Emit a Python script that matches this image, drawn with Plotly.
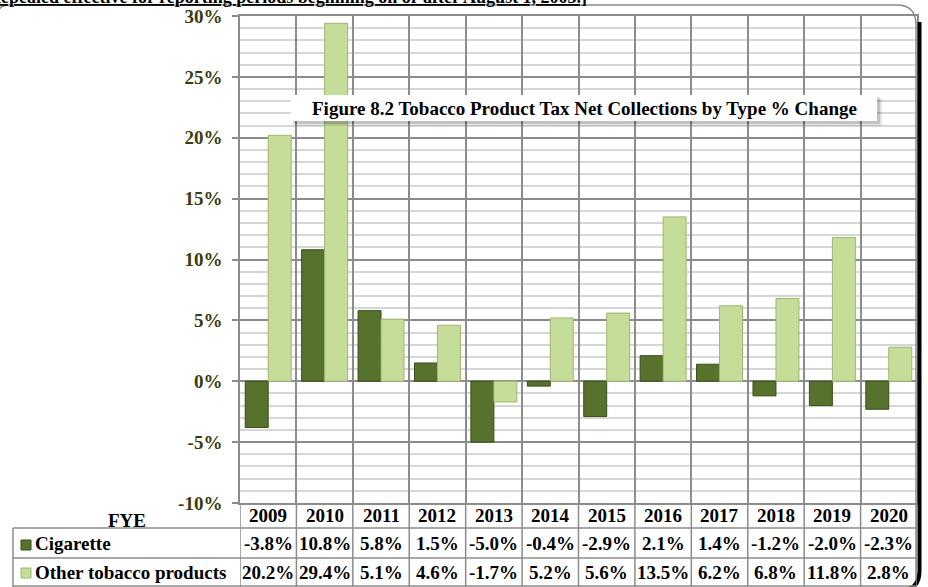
import plotly.graph_objects as go

# ---------------- data ----------------
years = ['2009', '2010', '2011', '2012', '2013', '2014', '2015', '2016', '2017', '2018', '2019', '2020']
cigarette = [-3.8, 10.8, 5.8, 1.5, -5.0, -0.4, -2.9, 2.1, 1.4, -1.2, -2.0, -2.3]
other_tobacco = [20.2, 29.4, 5.1, 4.6, -1.7, 5.2, 5.6, 13.5, 6.2, 6.8, 11.8, 2.8]
y_ticks = [-10, -5, 0, 5, 10, 15, 20, 25, 30]
y_tick_labels = ['-10%', '-5%', '0%', '5%', '10%', '15%', '20%', '25%', '30%']
series_names = ['Cigarette', 'Other tobacco products']
title_text = 'Figure 8.2 Tobacco Product Tax Net Collections by Type % Change'
top_note = '[Repealed effective for reporting periods beginning on or after August 1, 2003.]'

# ---------------- style ----------------
W, H = 928, 587
FONT = 'Liberation Serif, Times New Roman, serif'
CIG_COL, CIG_EDGE = '#56722c', '#3a4f1b'
OTP_COL, OTP_EDGE = '#c6dd9a', '#9db772'
GRID = '#8c8c8c'
MINOR = '#d6d6d6'
OLIVE = '#3b3b0e'


def X(p):
    return p / W


def Y(p):
    return 1 - p / H


fig = go.Figure()
fig.add_bar(x=years, y=cigarette, name=series_names[0],
            marker=dict(color=CIG_COL, line=dict(color=CIG_EDGE, width=1)))
fig.add_bar(x=years, y=other_tobacco, name=series_names[1],
            marker=dict(color=OTP_COL, line=dict(color=OTP_EDGE, width=1)))

shapes = []
annotations = []

# ---- outer chart frame and shadow ----
shapes.append(dict(type='path', xref='paper', yref='paper', layer='above',
                   path=f'M {X(-2)},{Y(14)} Q {X(-2)},{Y(5)} {X(10)},{Y(5)} L {X(897)},{Y(5)} '
                        f'Q {X(916)},{Y(5)} {X(916)},{Y(25)} L {X(916)},{Y(592)}',
                   line=dict(color='#8a8a8a', width=1.5)))
shapes.append(dict(type='path', xref='paper', yref='paper', layer='above',
                   path=f'M {X(919.5)},{Y(22)} L {X(919.5)},{Y(571)} Q {X(919.5)},{Y(589)} {X(903)},{Y(590)}',
                   line=dict(color='#000000', width=4)))

# ---- data table lines ----
for yy in (528, 558, 586):
    shapes.append(dict(type='line', xref='paper', yref='paper', x0=X(13), x1=X(917), y0=Y(yy), y1=Y(yy),
                       line=dict(color=GRID, width=1.5), layer='above'))
shapes.append(dict(type='line', xref='paper', yref='paper', x0=X(13), x1=X(13), y0=Y(528), y1=Y(590),
                   line=dict(color=GRID, width=1.5), layer='above'))
for i in range(len(years) + 1):
    shapes.append(dict(type='line', xref='x', yref='paper', x0=i - 0.5, x1=i - 0.5, y0=Y(503), y1=Y(590),
                       line=dict(color=GRID, width=1.5), layer='above'))

# legend keys in table
for yk, col, edge in ((545, CIG_COL, CIG_EDGE), (573, OTP_COL, OTP_EDGE)):
    shapes.append(dict(type='rect', xref='paper', yref='paper', x0=X(21), x1=X(31), y0=Y(yk - 5), y1=Y(yk + 5),
                       fillcolor=col, line=dict(color=edge, width=1), layer='above'))

tfont = dict(family=FONT, size=19, color='black', weight='bold')


def ann(x, y, text, xref='paper', xanchor='center', yanchor='middle', font=tfont):
    annotations.append(dict(x=x, xref=xref, y=y, yref='paper', text=text, showarrow=False,
                            xanchor=xanchor, yanchor=yanchor, font=font))


for i, yr in enumerate(years):
    ann(i, Y(515), yr, xref='x')
    ann(i, Y(543), f'{cigarette[i]:.1f}%', xref='x')
    ann(i, Y(572), f'{other_tobacco[i]:.1f}%', xref='x')
ann(X(127), Y(520), 'FYE')
ann(X(33), Y(543), series_names[0], xanchor='left')
ann(X(33), Y(572), series_names[1], xanchor='left')

# ---- title box with shadow ----
shapes.append(dict(type='rect', xref='paper', yref='paper', x0=X(295), x1=X(882), y0=Y(126), y1=Y(99),
                   fillcolor='rgba(0,0,0,0.10)', line=dict(width=0), layer='above'))
shapes.append(dict(type='rect', xref='paper', yref='paper', x0=X(293), x1=X(880), y0=Y(124), y1=Y(97),
                   fillcolor='rgba(0,0,0,0.15)', line=dict(width=0), layer='above'))
shapes.append(dict(type='rect', xref='paper', yref='paper', x0=X(291), x1=X(877), y0=Y(121), y1=Y(95),
                   fillcolor='white', line=dict(width=0), layer='above'))
ann(X(584), Y(108), title_text)

# ---- cut-off note at very top ----
ann(X(589), Y(9), f'<u>{top_note}</u>', xanchor='right', yanchor='bottom',
    font=dict(family=FONT, size=18, color='black', weight='bold'))

fig.update_layout(
    width=W, height=H, autosize=False,
    margin=dict(l=0, r=0, t=0, b=0, pad=0, autoexpand=False),
    paper_bgcolor='white', plot_bgcolor='white',
    barmode='group', bargap=0.185, bargroupgap=0,
    showlegend=False,
    shapes=shapes,
    annotations=annotations,
    xaxis=dict(domain=[X(240), X(917)], type='category', range=[-0.5, len(years) - 0.5],
               autorange=False, tickson='boundaries',
               showgrid=True, gridcolor=GRID, gridwidth=1.5,
               showticklabels=False, ticks='',
               showline=True, linecolor=GRID, linewidth=1.5, mirror=True),
    yaxis=dict(domain=[Y(503), Y(16)], range=[-10, 30], autorange=False,
               tickmode='array', tickvals=y_ticks, ticktext=y_tick_labels,
               tickfont=dict(family=FONT, size=19, color=OLIVE, weight='bold'),
               ticks='outside', ticklen=6, tickcolor=GRID, tickwidth=1.5,
               ticklabelstandoff=6,
               showgrid=True, gridcolor=GRID, gridwidth=1.5,
               zeroline=True, zerolinecolor=GRID, zerolinewidth=1.5,
               minor=dict(dtick=1, showgrid=True, gridcolor=MINOR, gridwidth=1.5, ticks=''),
               showline=True, linecolor=GRID, linewidth=1.5, mirror=True),
)

fig.write_html('out.html', config={'displayModeBar': False},
               post_script="document.body.style.margin='0';")
